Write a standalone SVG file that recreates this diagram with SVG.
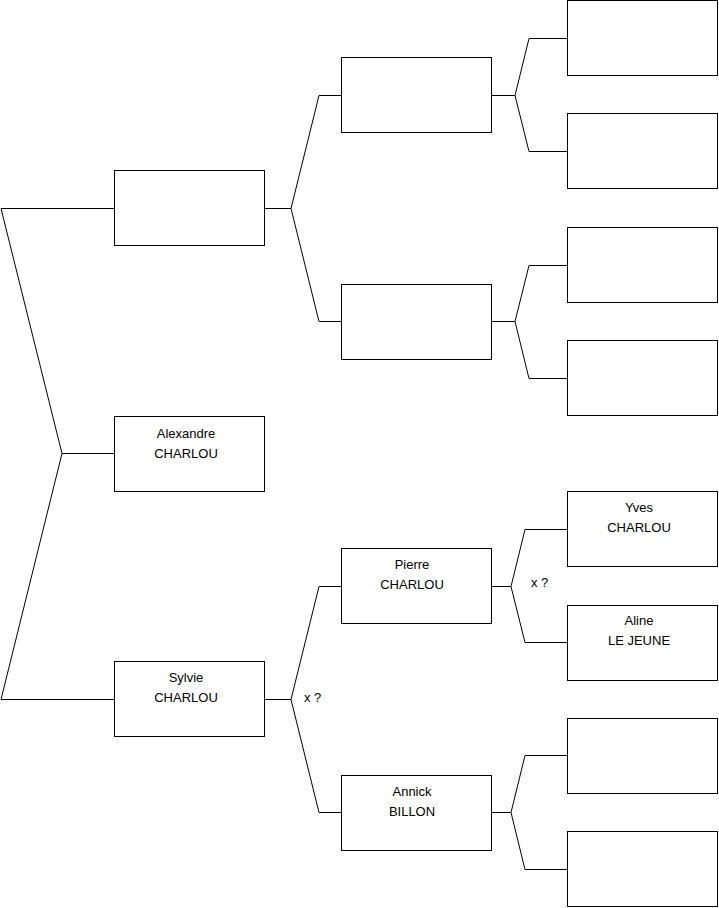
<svg xmlns="http://www.w3.org/2000/svg" width="719" height="908" viewBox="0 0 719 908">
<style>
.box{fill:#fff;stroke:#000;stroke-width:1}
.ln{fill:none;stroke:#000;stroke-width:1}
text{font-family:"Liberation Sans",Arial,sans-serif;font-size:13px;fill:#000}
.c{text-anchor:middle}
</style>
<rect width="719" height="908" fill="#fff"/>
<g id="connectors">
<polyline class="ln" points="114,208.5 1,208.5 62,453.5 1,699.5 114,699.5"/>
<line class="ln" x1="62" y1="453.5" x2="114" y2="453.5"/>
<polyline class="ln" points="341,95.5 319,95.5 291,208.5 319,321.5 341,321.5"/>
<line class="ln" x1="265" y1="208.5" x2="291" y2="208.5"/>
<polyline class="ln" points="341,586.5 319,586.5 291,699.5 319,812.5 341,812.5"/>
<line class="ln" x1="265" y1="699.5" x2="291" y2="699.5"/>
<polyline class="ln" points="567,38.5 529,38.5 515,95.5 529,151.5 567,151.5"/>
<line class="ln" x1="492" y1="95.5" x2="515" y2="95.5"/>
<polyline class="ln" points="567,265.5 529,265.5 515,321.5 529,378.5 567,378.5"/>
<line class="ln" x1="492" y1="321.5" x2="515" y2="321.5"/>
<polyline class="ln" points="567,529.5 525,529.5 511,586.5 525,642.5 567,642.5"/>
<line class="ln" x1="492" y1="586.5" x2="511" y2="586.5"/>
<polyline class="ln" points="567,755.5 525,755.5 511,812.5 525,869.5 567,869.5"/>
<line class="ln" x1="492" y1="812.5" x2="511" y2="812.5"/>
<text x="304" y="702">x ?</text>
<text x="531" y="587">x ?</text>
</g>
<g id="alexandre"><rect class="box" x="114.5" y="416.5" width="150" height="75"/><text class="c" x="186" y="438">Alexandre</text><text class="c" x="186" y="458">CHARLOU</text></g>
<g id="father"><rect class="box" x="114.5" y="170.5" width="150" height="75"/></g>
<g id="sylvie"><rect class="box" x="114.5" y="661.5" width="150" height="75"/><text class="c" x="186" y="682">Sylvie</text><text class="c" x="186" y="702">CHARLOU</text></g>
<g id="pgf"><rect class="box" x="341.5" y="57.5" width="150" height="75"/></g>
<g id="pgm"><rect class="box" x="341.5" y="284.5" width="150" height="75"/></g>
<g id="pierre"><rect class="box" x="341.5" y="548.5" width="150" height="75"/><text class="c" x="412" y="569">Pierre</text><text class="c" x="412" y="589">CHARLOU</text></g>
<g id="annick"><rect class="box" x="341.5" y="775.5" width="150" height="75"/><text class="c" x="412" y="796">Annick</text><text class="c" x="412" y="816">BILLON</text></g>
<g id="g4a"><rect class="box" x="567.5" y="0.5" width="150" height="75"/></g>
<g id="g4b"><rect class="box" x="567.5" y="113.5" width="150" height="75"/></g>
<g id="g4c"><rect class="box" x="567.5" y="227.5" width="150" height="75"/></g>
<g id="g4d"><rect class="box" x="567.5" y="340.5" width="150" height="75"/></g>
<g id="yves"><rect class="box" x="567.5" y="491.5" width="150" height="75"/><text class="c" x="639" y="512">Yves</text><text class="c" x="639" y="532">CHARLOU</text></g>
<g id="aline"><rect class="box" x="567.5" y="605.5" width="150" height="75"/><text class="c" x="639" y="625">Aline</text><text class="c" x="639" y="645">LE JEUNE</text></g>
<g id="g4g"><rect class="box" x="567.5" y="718.5" width="150" height="75"/></g>
<g id="g4h"><rect class="box" x="567.5" y="831.5" width="150" height="75"/></g>
</svg>
